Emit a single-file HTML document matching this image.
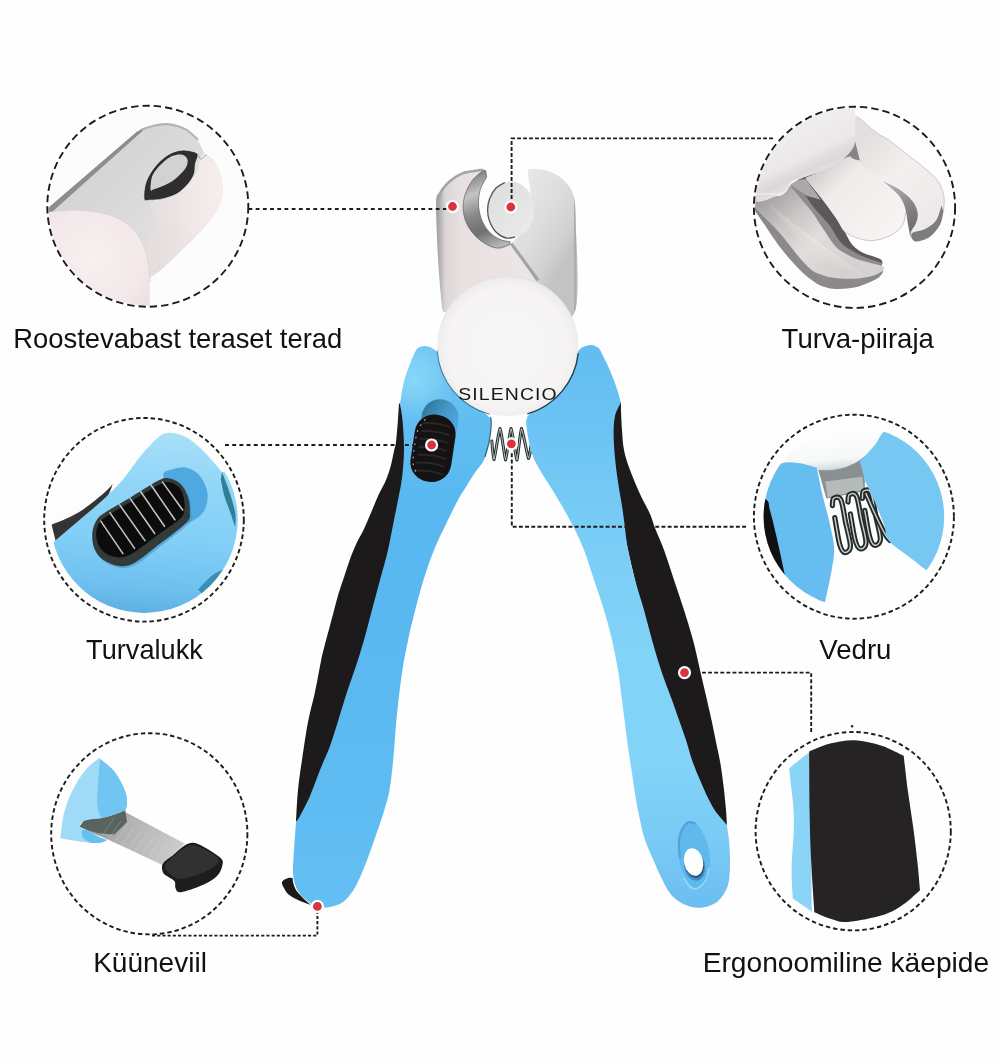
<!DOCTYPE html>
<html lang="et">
<head>
<meta charset="utf-8">
<title>Küünekäärid</title>
<style>
html,body{margin:0;padding:0;background:#fefefe;}
body{width:1000px;height:1060px;overflow:hidden;position:relative;font-family:"Liberation Sans",sans-serif;}
svg{display:block;position:absolute;left:0;top:0;will-change:transform;}
text{will-change:transform;}
.lbl{font-family:"Liberation Sans",sans-serif;font-size:27.2px;fill:#111;}
.dash{fill:none;stroke:#1c1c1c;stroke-width:1.9;stroke-dasharray:4.2 3;}
.ring{fill:none;stroke:#1c1c1c;stroke-width:1.9;stroke-dasharray:7 4;}
.dot{fill:#d8343f;stroke:#fff;stroke-width:2.2;}
</style>
</head>
<body>
<svg width="1000" height="1060" viewBox="0 0 1000 1060">
<rect x="0" y="0" width="1000" height="1060" fill="#fefefe"/>
<defs>
<linearGradient id="gBlueL" gradientUnits="userSpaceOnUse" x1="0" y1="340" x2="0" y2="910">
<stop offset="0" stop-color="#70c6f3"/><stop offset="0.14" stop-color="#62bef1"/><stop offset="0.28" stop-color="#58b8ef"/><stop offset="0.5" stop-color="#59b8ef"/><stop offset="0.75" stop-color="#5dbbf2"/><stop offset="1" stop-color="#64bff3"/>
</linearGradient>
<radialGradient id="gShoulder" gradientUnits="userSpaceOnUse" cx="414" cy="380" r="42">
<stop offset="0" stop-color="#9fe3fb" stop-opacity="0.6"/><stop offset="0.45" stop-color="#98e1fb" stop-opacity="0.4"/><stop offset="1" stop-color="#8cd9f9" stop-opacity="0"/>
</radialGradient>
<linearGradient id="gBlueR" gradientUnits="userSpaceOnUse" x1="0" y1="340" x2="0" y2="910">
<stop offset="0" stop-color="#62bcf1"/><stop offset="0.175" stop-color="#6dc4f4"/><stop offset="0.35" stop-color="#7acdf6"/><stop offset="0.55" stop-color="#82d3f8"/><stop offset="0.75" stop-color="#82d3f8"/><stop offset="0.88" stop-color="#79caf5"/><stop offset="1" stop-color="#6bbdf2"/>
</linearGradient>
<clipPath id="cpLblue"><path d="M440 356C439.5 355.3 438.5 353.4 437 352C435.5 350.6 433 348.5 431 347.5C429 346.5 426.8 346.1 425 346C423.2 345.9 421.5 346.2 420 347C418.5 347.8 417.7 347.7 416 350.5C414.3 353.3 412 358.8 410 364C408 369.2 405.7 375.3 404 382C402.3 388.7 400.7 400.3 400 404L400 404C400.4 406.7 401.8 412.3 402.5 420C403.2 427.7 404.1 440.3 404 450C403.9 459.7 403 469.7 402 478C401 486.3 399.3 493 398 500C396.7 507 395.7 511.7 394 520C392.3 528.3 390.3 540 388 550C385.7 560 382.7 570 380 580C377.3 590 374.7 600 372 610C369.3 620 366.7 630.7 364 640C361.3 649.3 358.8 657.3 356 666C353.2 674.7 349.8 683.3 347 692C344.2 700.7 341.8 709 339 718C336.2 727 333.2 737.3 330 746C326.8 754.7 323.3 761.7 320 770C316.7 778.3 313.3 788.3 310 796C306.7 803.7 302.3 811.7 300 816C297.7 820.3 296.7 821 296 822L296 822C295.7 826.7 294.5 841.7 294 850C293.5 858.3 292.8 866.3 293 872C293.2 877.7 293.8 880.3 295 884C296.2 887.7 297.5 890.8 300 894C302.5 897.2 306.7 900.8 310 903C313.3 905.2 316.7 906.3 320 907C323.3 907.7 326.2 907.8 330 907C333.8 906.2 338.9 905 342.8 902.3C346.7 899.6 350.2 895.1 353.2 890.6C356.2 886.1 358.4 880.9 361 875C363.6 869.1 366 863.1 368.8 855.5C371.6 847.9 375.3 837.1 377.9 829.5C380.5 821.9 382.5 816.6 384.4 810C386.3 803.4 388 798.3 389.5 790C391 781.7 392.1 770.8 393.2 760C394.3 749.2 395.1 735.3 396 725C396.9 714.7 397.7 707.3 398.8 698C399.9 688.7 401 679 402.6 669C404.2 659 406.4 648 408.5 638C410.6 628 413 618.7 415.5 609C418 599.3 420.4 589.8 423.5 580C426.6 570.2 430.2 559.3 434 550C437.8 540.7 442 532.3 446 524C450 515.7 455 505.7 458 500C461 494.3 461.3 494.3 464 490C466.7 485.7 470.7 479 474 474C477.3 469 481.5 465.3 484 460C486.5 454.7 487.8 448.3 489 442C490.2 435.7 491.2 426.3 491 422C490.8 417.7 491.5 419.7 488 416C484.5 412.3 473 402.7 470 400Z"/></clipPath>
<linearGradient id="gBladeR" gradientUnits="userSpaceOnUse" x1="520" y1="190" x2="585" y2="230">
<stop offset="0" stop-color="#e8e7e7"/><stop offset="0.45" stop-color="#dedddd"/><stop offset="0.8" stop-color="#d2d1d1"/><stop offset="1" stop-color="#c4c3c3"/>
</linearGradient>
<linearGradient id="gBladeL" gradientUnits="userSpaceOnUse" x1="436" y1="0" x2="520" y2="0">
<stop offset="0" stop-color="#9d9d9d"/><stop offset="0.05" stop-color="#b4b3b3"/><stop offset="0.11" stop-color="#dcd6d6"/><stop offset="0.3" stop-color="#e9e1e1"/><stop offset="1" stop-color="#ece5e5"/>
</linearGradient>
<linearGradient id="gBevel" gradientUnits="userSpaceOnUse" x1="470" y1="175" x2="500" y2="245">
<stop offset="0" stop-color="#7f7f7f"/><stop offset="0.25" stop-color="#c4c4c4"/><stop offset="0.5" stop-color="#8a8a8a"/><stop offset="0.75" stop-color="#6f6f6f"/><stop offset="1" stop-color="#b5b5b5"/>
</linearGradient>
<radialGradient id="gDisc" gradientUnits="userSpaceOnUse" cx="507.8" cy="348" r="72">
<stop offset="0" stop-color="#f8f7f7"/><stop offset="0.85" stop-color="#f5f3f3"/><stop offset="0.97" stop-color="#efecec"/><stop offset="1" stop-color="#e4e0e0"/>
</radialGradient>
<linearGradient id="gLim" gradientUnits="userSpaceOnUse" x1="490" y1="190" x2="535" y2="230">
<stop offset="0" stop-color="#dedede"/><stop offset="1" stop-color="#ebebeb"/>
</linearGradient>
<linearGradient id="gRecess" gradientUnits="userSpaceOnUse" x1="420" y1="400" x2="458" y2="420">
<stop offset="0" stop-color="#2f7492"/><stop offset="0.5" stop-color="#4598c8"/><stop offset="1" stop-color="#4fabe3"/>
</linearGradient>
<clipPath id="cpLB"><path d="M443.4 312C443.1 310.5 442.5 312 441.6 303C440.7 294 438.9 274.5 438 258C437.1 241.5 435.9 215.1 436.2 204C436.5 192.9 437.7 195.3 439.8 191.4C441.9 187.5 445.2 183.8 448.8 180.6C452.4 177.4 457.2 174.3 461.4 172.5C465.6 170.7 470.4 170.4 474 169.8C477.6 169.2 481.1 168.3 483 168.9C484.9 169.5 485.2 172.7 485.7 173.4L482 171.6C480.4 173.1 475 176.7 472.2 180.6C469.4 184.5 466.5 190.2 465 195C463.5 199.8 462.9 204.6 463.2 209.4C463.5 214.2 464.7 219.3 466.8 223.8C468.9 228.3 472.2 232.8 475.8 236.4C479.4 240 484.5 243.5 488.4 245.4C492.3 247.3 495.6 248.2 499.2 248.1C502.8 247.9 508.2 245.1 510 244.5L510 244.5C514.2 250.3 529.4 270.4 535.2 279.6C541 288.9 543.4 294.6 545 300C546.6 305.4 545 310 545 312Z"/></clipPath>
<clipPath id="cpRB"><path d="M527.6 169.5C529.2 169.4 533.3 168.6 537 168.9C540.7 169.2 545.4 169.9 549.6 171.6C553.8 173.2 558.6 175.8 562.2 178.8C565.8 181.8 569.1 185.7 571.2 189.6C573.3 193.5 574 197.1 574.8 202.2C575.5 207.3 575.6 217 575.7 220L575.7 220C575.6 235.3 580.8 296.7 574.8 312C568.8 327.3 549.1 320.3 540 312C530.9 303.7 525 273.2 520 262C515 250.8 511.7 247.4 510 244.5L510 244.5C513 241.2 524.5 232.4 528 225C531.5 217.6 530.8 207.2 531 200C531.2 192.8 529.6 187.1 529 182C528.4 176.9 527.8 171.6 527.6 169.5Z"/></clipPath>
</defs>
<g id="clipper">
<path d="M527.6 169.5C529.2 169.4 533.3 168.6 537 168.9C540.7 169.2 545.4 169.9 549.6 171.6C553.8 173.2 558.6 175.8 562.2 178.8C565.8 181.8 569.1 185.7 571.2 189.6C573.3 193.5 574 197.1 574.8 202.2C575.5 207.3 575.6 217 575.7 220L575.7 220C575.6 235.3 580.8 296.7 574.8 312C568.8 327.3 549.1 320.3 540 312C530.9 303.7 525 273.2 520 262C515 250.8 511.7 247.4 510 244.5L510 244.5C513 241.2 524.5 232.4 528 225C531.5 217.6 530.8 207.2 531 200C531.2 192.8 529.6 187.1 529 182C528.4 176.9 527.8 171.6 527.6 169.5Z" fill="url(#gBladeR)"/>
<g clip-path="url(#cpRB)">
<path d="M510 244.5L537 281" stroke="#a3a2a2" stroke-width="6" fill="none"/>
<path d="M575.2 190V312" stroke="#aeadad" stroke-width="2.4" fill="none"/>
</g>
<path d="M443.4 312C443.1 310.5 442.5 312 441.6 303C440.7 294 438.9 274.5 438 258C437.1 241.5 435.9 215.1 436.2 204C436.5 192.9 437.7 195.3 439.8 191.4C441.9 187.5 445.2 183.8 448.8 180.6C452.4 177.4 457.2 174.3 461.4 172.5C465.6 170.7 470.4 170.4 474 169.8C477.6 169.2 481.1 168.3 483 168.9C484.9 169.5 485.2 172.7 485.7 173.4L482 171.6C480.4 173.1 475 176.7 472.2 180.6C469.4 184.5 466.5 190.2 465 195C463.5 199.8 462.9 204.6 463.2 209.4C463.5 214.2 464.7 219.3 466.8 223.8C468.9 228.3 472.2 232.8 475.8 236.4C479.4 240 484.5 243.5 488.4 245.4C492.3 247.3 495.6 248.2 499.2 248.1C502.8 247.9 508.2 245.1 510 244.5L510 244.5C514.2 250.3 529.4 270.4 535.2 279.6C541 288.9 543.4 294.6 545 300C546.6 305.4 545 310 545 312Z" fill="url(#gBladeL)"/>
<g clip-path="url(#cpLB)">
<path d="M436.2 215C436.2 213.2 435.9 207.9 436.5 204C437.1 200.1 437.8 195.3 439.8 191.4C441.9 187.5 445.2 183.8 448.8 180.6C452.4 177.4 457.2 174.3 461.4 172.5C465.6 170.7 470.2 170.5 474 169.8C477.8 169.2 482.3 168.8 484 168.6" fill="none" stroke="#a7a6a6" stroke-width="5"/>
</g>
<path d="M485.7 170.5C485.1 170.7 484.2 169.9 482 171.6C479.8 173.3 475 176.7 472.2 180.6C469.4 184.5 466.5 190.2 465 195C463.5 199.8 462.9 204.6 463.2 209.4C463.5 214.2 464.7 219.3 466.8 223.8C468.9 228.3 472.2 232.8 475.8 236.4C479.4 240 484.5 243.5 488.4 245.4C492.3 247.3 495.6 248.2 499.2 248.1C502.8 247.9 508.2 245.1 510 244.5L510 241.8C508.2 241.4 502.8 240.9 499.2 239.1C495.6 237.3 491.4 234.4 488.4 231C485.4 227.6 482.8 222.9 481.2 218.4C479.6 213.9 478.6 208.8 478.5 204C478.4 199.2 478.9 194.1 480.3 189.6C481.7 185.1 485.6 179.1 486.6 177Z" fill="url(#gBevel)" stroke="#5e5e5e" stroke-width="0.7"/>
<ellipse cx="510.9" cy="209.8" rx="23.4" ry="28.3" fill="url(#gLim)"/>
<path d="M505 182.5C503.5 183.4 498.6 185.2 496 188C493.4 190.8 490.9 195.3 489.5 199C488.1 202.7 487.6 206.3 487.6 210C487.6 213.7 488.1 217.3 489.5 221C490.9 224.7 493.2 229.2 496 232C498.8 234.8 502.8 237.2 506 238C509.2 238.8 513.5 237.2 515 237" fill="none" stroke="#555" stroke-width="1.3"/>
<g fill="none" stroke-linecap="round" stroke-linejoin="round">
<path d="M491.8 441C492.5 450 493 456 494 459.5C496 452 498 434 500 428.5C502 434 504 454 505.5 460C507.5 452 509.5 434 511 428.5C513 434 515 454 517 460C518.5 452 520 434 521.5 428.5C524 436 526.5 452 528.5 458.5C529.8 455 530.6 450 531 446" stroke="#1f2a2a" stroke-width="3"/>
<path d="M491.8 441C492.5 450 493 456 494 459.5C496 452 498 434 500 428.5C502 434 504 454 505.5 460C507.5 452 509.5 434 511 428.5C513 434 515 454 517 460C518.5 452 520 434 521.5 428.5C524 436 526.5 452 528.5 458.5C529.8 455 530.6 450 531 446" stroke="#c9cfcf" stroke-width="0.9"/>
</g>
<path d="M399 403.6C398.8 406.7 398.3 415.6 397.8 422C397.3 428.4 396.6 437.2 396 442C395.4 446.8 394.8 447.2 394 451C393.2 454.8 392.3 460.2 391 465C389.7 469.8 388.1 475 386 480C383.9 485 381.1 489.3 378.5 495C375.9 500.7 373 508.2 370.5 514C368 519.8 365.6 525.5 363.5 530C361.4 534.5 359.8 536.3 357.6 541C355.4 545.7 352.6 552.2 350.4 558C348.2 563.8 346.4 570 344.4 576C342.4 582 340.2 588 338.4 594C336.6 600 335.2 606 333.6 612C332 618 330.4 624 328.8 630C327.2 636 325.3 642.8 324 648C322.7 653.2 322.5 653.7 321 661C319.5 668.3 317.2 681.8 315 692C312.8 702.2 310.2 710.7 308 722C305.8 733.3 303.7 748.7 302 760C300.3 771.3 299 779.7 298 790C297 800.3 296.3 816.7 296 822L330 790C338.3 758.3 366.7 656.7 380 600C393.3 543.3 406 482.7 410 450C414 417.3 405 411.7 404 404Z" fill="#1c1a1b"/>
<path d="M440 356C439.5 355.3 438.5 353.4 437 352C435.5 350.6 433 348.5 431 347.5C429 346.5 426.8 346.1 425 346C423.2 345.9 421.5 346.2 420 347C418.5 347.8 417.7 347.7 416 350.5C414.3 353.3 412 358.8 410 364C408 369.2 405.7 375.3 404 382C402.3 388.7 400.7 400.3 400 404L400 404C400.4 406.7 401.8 412.3 402.5 420C403.2 427.7 404.1 440.3 404 450C403.9 459.7 403 469.7 402 478C401 486.3 399.3 493 398 500C396.7 507 395.7 511.7 394 520C392.3 528.3 390.3 540 388 550C385.7 560 382.7 570 380 580C377.3 590 374.7 600 372 610C369.3 620 366.7 630.7 364 640C361.3 649.3 358.8 657.3 356 666C353.2 674.7 349.8 683.3 347 692C344.2 700.7 341.8 709 339 718C336.2 727 333.2 737.3 330 746C326.8 754.7 323.3 761.7 320 770C316.7 778.3 313.3 788.3 310 796C306.7 803.7 302.3 811.7 300 816C297.7 820.3 296.7 821 296 822L296 822C295.7 826.7 294.5 841.7 294 850C293.5 858.3 292.8 866.3 293 872C293.2 877.7 293.8 880.3 295 884C296.2 887.7 297.5 890.8 300 894C302.5 897.2 306.7 900.8 310 903C313.3 905.2 316.7 906.3 320 907C323.3 907.7 326.2 907.8 330 907C333.8 906.2 338.9 905 342.8 902.3C346.7 899.6 350.2 895.1 353.2 890.6C356.2 886.1 358.4 880.9 361 875C363.6 869.1 366 863.1 368.8 855.5C371.6 847.9 375.3 837.1 377.9 829.5C380.5 821.9 382.5 816.6 384.4 810C386.3 803.4 388 798.3 389.5 790C391 781.7 392.1 770.8 393.2 760C394.3 749.2 395.1 735.3 396 725C396.9 714.7 397.7 707.3 398.8 698C399.9 688.7 401 679 402.6 669C404.2 659 406.4 648 408.5 638C410.6 628 413 618.7 415.5 609C418 599.3 420.4 589.8 423.5 580C426.6 570.2 430.2 559.3 434 550C437.8 540.7 442 532.3 446 524C450 515.7 455 505.7 458 500C461 494.3 461.3 494.3 464 490C466.7 485.7 470.7 479 474 474C477.3 469 481.5 465.3 484 460C486.5 454.7 487.8 448.3 489 442C490.2 435.7 491.2 426.3 491 422C490.8 417.7 491.5 419.7 488 416C484.5 412.3 473 402.7 470 400Z" fill="url(#gBlueL)"/>
<g clip-path="url(#cpLblue)"><circle cx="414" cy="380" r="42" fill="url(#gShoulder)"/></g>
<path d="M621 402C621 403.3 620.8 405.3 621 410C621.2 414.7 621.5 423.3 622 430C622.5 436.7 622.7 443.3 624 450C625.3 456.7 627.3 462.7 630 470C632.7 477.3 636.7 486.7 640 494C643.3 501.3 647.5 508.3 650 514C652.5 519.7 652.7 522 655 528C657.3 534 660.8 541.3 664 550C667.2 558.7 670.7 570 674 580C677.3 590 680.8 600 684 610C687.2 620 690.3 630 693 640C695.7 650 697.7 660 700 670C702.3 680 705.1 691.7 707 700C708.9 708.3 710 713 711.5 720C713 727 714.5 734.7 716 742C717.5 749.3 719.2 756 720.5 764C721.8 772 723.1 782.3 724 790C724.9 797.7 725.5 804 726 810C726.5 816 726.8 823.3 727 826L700 800C690 766.7 655 658.3 640 600C625 541.7 614 482.7 610 450C606 417.3 615 411.7 616 404Z" fill="#1c1a1b"/>
<path d="M575 356C575.8 354.8 578.2 350.7 580 349C581.8 347.3 584 346.7 586 346C588 345.3 590.2 344.8 592 345C593.8 345.2 595.7 346.2 597 347C598.3 347.8 598.2 346.8 600 350C601.8 353.2 605.3 360 608 366C610.7 372 613.8 379.8 616 386C618.2 392.2 620.2 400.2 621 403L620 404C619.2 406 616.1 411 615 416C613.9 421 613.6 427 613.6 434C613.6 441 614.3 450 615 458C615.7 466 616.8 474 618 482C619.2 490 620.9 499 622 506C623.1 513 623.5 516.7 624.5 524C625.5 531.3 626.2 540.7 628 550C629.8 559.3 632.3 570 635 580C637.7 590 641.2 600 644 610C646.8 620 649.2 630 652 640C654.8 650 657.7 660 661 670C664.3 680 669 691.7 672 700C675 708.3 676.7 713.3 679 720C681.3 726.7 683.8 733.3 686 740C688.2 746.7 689.7 753.3 692 760C694.3 766.7 697.3 773.7 700 780C702.7 786.3 705.3 792.7 708 798C710.7 803.3 712.8 807.5 716 812C719.2 816.5 725.2 822.8 727 825L727 826C727.3 828.3 728.5 834.3 729 840C729.5 845.7 730 853.3 730 860C730 866.7 729.8 874.8 729 880C728.2 885.2 727.5 887.3 725.5 891C723.5 894.7 720.8 899.2 717 902C713.2 904.8 707.5 906.8 703 907.5C698.5 908.2 694 907.5 690 906.5C686 905.5 682.4 903.8 679 901.5C675.6 899.2 672.6 896.8 669.5 892.5C666.4 888.2 663.2 881.6 660.5 876C657.8 870.4 655.6 865 653 859C650.4 853 647.2 846.5 645 840C642.8 833.5 641.5 826.7 640 820C638.5 813.3 637.2 806.7 636 800C634.8 793.3 634 786.7 633 780C632 773.3 631 766.7 630 760C629 753.3 627.9 746.7 627 740C626.1 733.3 625.3 726.7 624.5 720C623.7 713.3 623.1 708.3 622 700C620.9 691.7 619.7 680 618 670C616.3 660 614.3 650 612 640C609.7 630 607 620 604 610C601 600 597.3 590 594 580C590.7 570 587.5 559 584 550C580.5 541 576.7 533.3 573 526C569.3 518.7 565.8 512.7 562 506C558.2 499.3 553.7 492 550 486C546.3 480 543 475.3 540 470C537 464.7 534.2 460.7 532 454C529.8 447.3 527.7 436.3 527 430C526.3 423.7 525 421 528 416C531 411 542.2 402.7 545 400Z" fill="url(#gBlueR)"/>
<path d="M490.5 417C490.6 418.2 491.5 420 491.3 424C491.1 428 490.4 435.5 489.3 441C488.2 446.5 485.6 454.3 484.8 457" fill="none" stroke="#1d4f63" stroke-width="1.3" stroke-opacity="0.8"/>
<ellipse cx="694" cy="855" rx="15.5" ry="34" fill="#60b9ec" transform="rotate(-9 694 855)"/>
<path d="M680 858C679.8 855 678.5 845 679 840C679.5 835 681.3 831 683 828C684.7 825 686.8 822.7 689 822C691.2 821.3 694.8 823.7 696 824" fill="none" stroke="#4a9fd3" stroke-width="2.2" stroke-opacity="0.8"/>
<path d="M684 878C685 879.5 687.7 885.3 690 887C692.3 888.7 695.3 889.2 698 888C700.7 886.8 704.2 883.3 706 880C707.8 876.7 708.5 870 709 868" fill="none" stroke="#9adcfa" stroke-width="1.6" stroke-opacity="0.9"/>
<ellipse cx="694.6" cy="866" rx="10.5" ry="15" fill="#3d8fd0" transform="rotate(-12 694.6 866)"/>
<ellipse cx="694.3" cy="864.2" rx="9.6" ry="14" fill="#2c5878" transform="rotate(-12 694.3 864.2)"/>
<ellipse cx="693.6" cy="862" rx="9.5" ry="14" fill="#fefefe" transform="rotate(-12 693.6 862)"/>
<path d="M292.6 878C291.8 878 289.8 877.3 288 878C286.2 878.7 282.7 880.3 282 882C281.3 883.7 283 886 284 888C285 890 286 892.2 288 894C290 895.8 293.3 897.6 296 899C298.7 900.4 301.5 901.5 304 902.5C306.5 903.5 309.8 904.6 311 905L311 905C309.7 903.8 305.5 900.5 303 898C300.5 895.5 297.7 892.7 296 890C294.3 887.3 293.5 883.3 293 882Z" fill="#1c1a1b"/>
<g transform="rotate(8.5 433 448)">
<rect x="417" y="398.5" width="37" height="80" rx="18.5" ry="18.5" fill="url(#gRecess)"/>
<rect x="412.5" y="414.5" width="41" height="67.5" rx="20" ry="19" fill="#141212"/>
<path d="M419 425 Q433 422 447 425" stroke="#2b2727" stroke-width="2" fill="none"/>
<path d="M419 433 Q433 430 447 433" stroke="#2b2727" stroke-width="2" fill="none"/>
<path d="M419 441 Q433 438 447 441" stroke="#2b2727" stroke-width="2" fill="none"/>
<path d="M419 449 Q433 446 447 449" stroke="#2b2727" stroke-width="2" fill="none"/>
<path d="M419 457 Q433 454 447 457" stroke="#2b2727" stroke-width="2" fill="none"/>
<path d="M419 465 Q433 462 447 465" stroke="#2b2727" stroke-width="2" fill="none"/>
<path d="M419 473 Q433 470 447 473" stroke="#2b2727" stroke-width="2" fill="none"/>
<path d="M421 421C420.1 422.8 416.6 427.5 415.5 432C414.4 436.5 414.5 442.3 414.5 448C414.5 453.7 414.4 461.3 415.5 466C416.6 470.7 420.1 474.3 421 476" fill="none" stroke="#b8b8b8" stroke-width="1.1" stroke-dasharray="1 5.7" stroke-linecap="round"/>
</g>
<circle cx="507.8" cy="345.8" r="70.4" fill="url(#gDisc)"/>
<path d="M578.2 353.2A70.8 70.8 0 0 1 527.3 413.9" fill="none" stroke="#14262e" stroke-width="1.4" stroke-opacity="0.85"/>
<path d="M437.2 350.7A70.8 70.8 0 0 0 489.5 414.2" fill="none" stroke="#2c5a70" stroke-width="1.1" stroke-opacity="0.7"/>
<g transform="translate(458.2 400.2) scale(1.17 1)"><text x="0" y="0" font-family="'Liberation Sans',sans-serif" font-size="16.6" fill="#161616" textLength="84.2" lengthAdjust="spacing">SILENCIO</text></g>
</g>
<defs>
<linearGradient id="tlFace" gradientUnits="userSpaceOnUse" x1="200" y1="300" x2="600" y2="700"><stop offset="0" stop-color="#d3d3d3"/><stop offset="0.5" stop-color="#dbdada"/><stop offset="1" stop-color="#e4e0e0"/></linearGradient>
<linearGradient id="tlBrush" gradientUnits="userSpaceOnUse" x1="500" y1="500" x2="800" y2="450"><stop offset="0" stop-color="#e4dede"/><stop offset="0.5" stop-color="#efe6e6"/><stop offset="1" stop-color="#f6eded"/></linearGradient>
<radialGradient id="tlCap" gradientUnits="userSpaceOnUse" cx="260" cy="700" r="300"><stop offset="0" stop-color="#f7eff0"/><stop offset="0.7" stop-color="#f3e8ea"/><stop offset="1" stop-color="#eddfe1"/></radialGradient>
<linearGradient id="trLow" gradientUnits="userSpaceOnUse" x1="-60" y1="330" x2="330" y2="800"><stop offset="0" stop-color="#a5a2a2"/><stop offset="0.3" stop-color="#cbc6c6"/><stop offset="0.6" stop-color="#e2dcdc"/><stop offset="1" stop-color="#d6d1d1"/></linearGradient>
<linearGradient id="trRB" gradientUnits="userSpaceOnUse" x1="450" y1="50" x2="900" y2="500"><stop offset="0" stop-color="#e3dfde"/><stop offset="0.4" stop-color="#f3efee"/><stop offset="1" stop-color="#ede9e8"/></linearGradient>
<linearGradient id="trWall" gradientUnits="userSpaceOnUse" x1="620" y1="260" x2="790" y2="540"><stop offset="0" stop-color="#b5b2b2"/><stop offset="0.5" stop-color="#8a8888"/><stop offset="1" stop-color="#6a6868"/></linearGradient>
<linearGradient id="trShadow" gradientUnits="userSpaceOnUse" x1="120" y1="280" x2="560" y2="720"><stop offset="0" stop-color="#7a7878"/><stop offset="0.5" stop-color="#6a6868"/><stop offset="1" stop-color="#9a9898"/></linearGradient>
<linearGradient id="trTg" gradientUnits="userSpaceOnUse" x1="230" y1="170" x2="600" y2="540"><stop offset="0" stop-color="#d3cfcf"/><stop offset="0.3" stop-color="#efebea"/><stop offset="1" stop-color="#f7f3f2"/></linearGradient>
<linearGradient id="trCap" gradientUnits="userSpaceOnUse" x1="60" y1="-120" x2="240" y2="260"><stop offset="0" stop-color="#f2eff0"/><stop offset="0.55" stop-color="#ebe8e9"/><stop offset="0.75" stop-color="#dcd7d9"/><stop offset="0.9" stop-color="#e6e2e4"/><stop offset="1" stop-color="#d9d4d6"/></linearGradient>
<linearGradient id="mlBlue" gradientUnits="userSpaceOnUse" x1="500" y1="150" x2="450" y2="900"><stop offset="0" stop-color="#a6def8"/><stop offset="0.25" stop-color="#92d6f8"/><stop offset="0.6" stop-color="#80cef7"/><stop offset="0.85" stop-color="#6dbfee"/><stop offset="1" stop-color="#5aaee0"/></linearGradient>
<linearGradient id="mrCap" gradientUnits="userSpaceOnUse" x1="400" y1="100" x2="420" y2="300"><stop offset="0" stop-color="#ffffff"/><stop offset="0.72" stop-color="#f6f8f8"/><stop offset="0.9" stop-color="#d9e0e2"/><stop offset="1" stop-color="#b4bfc3"/></linearGradient>
<linearGradient id="blFile" gradientUnits="userSpaceOnUse" x1="250" y1="440" x2="620" y2="600"><stop offset="0" stop-color="#8d8f8e"/><stop offset="0.4" stop-color="#b3b3b3"/><stop offset="1" stop-color="#cdcdcd"/></linearGradient>
</defs>
<clipPath id="cp_cTL"><circle cx="147.8" cy="206.2" r="99.3"/></clipPath>
<g id="cTL" clip-path="url(#cp_cTL)"><g transform="translate(30 90) scale(0.24)">
<rect x="0" y="0" width="1000" height="1000" fill="#fdfcfc"/>
<path d="M70 505C100 478.3 188.3 399.2 250 345C311.7 290.8 398.3 212.2 440 180C481.7 147.8 480 158.2 500 152C520 145.8 536.7 140.8 560 143C583.3 145.2 616.7 153 640 165C663.3 177 685.8 198.8 700 215C714.2 231.2 720.8 254.2 725 262L725 262C732.5 268.3 757.5 280.3 770 300C782.5 319.7 796.7 350 800 380C803.3 410 806.7 443.3 790 480C773.3 516.7 746.7 550.8 700 600C653.3 649.2 541.7 745.8 510 775L510 775C491.7 779.2 451.7 812.5 400 800C348.3 787.5 255 749.2 200 700C145 650.8 91.7 537.5 70 505Z" fill="url(#tlFace)"/>
<path d="M725 265C733.3 272.5 762.5 289.2 775 310C787.5 330.8 797.5 361.7 800 390C802.5 418.3 806.7 445 790 480C773.3 515 746.7 550.8 700 600C653.3 649.2 545 758.3 510 775C475 791.7 495 722.5 490 700C485 677.5 481.7 650 480 640L480 640C487.5 624.2 521.7 573.3 525 545C528.3 516.7 487.5 487.5 500 470C512.5 452.5 568.3 460 600 440C631.7 420 672.5 375 690 350C707.5 325 702.5 300 705 290Z" fill="url(#tlBrush)"/>
<path d="M72 494L445 174L468 161L472 168L94 506L78 508Z" fill="#8d8d8d"/>
<path d="M465 165C474.2 162.2 500.8 151.7 520 148C539.2 144.3 558.3 140.2 580 143C601.7 145.8 630 154.2 650 165C670 175.8 691.7 200.8 700 208" fill="none" stroke="#b3b3b3" stroke-width="9"/>
<path d="M475.2 453.8C472.5 441.2 475.6 406 483.3 383.4C491 360.8 505.9 337.4 521.3 318.4C536.6 299.4 557.3 280.9 575.4 269.6C593.5 258.3 612.4 252.9 629.6 250.7C646.8 248.4 666.7 253 678.4 256.1C690.1 259.2 698.2 261 700 269.6C701.8 278.2 691.9 293.9 689.2 307.5C686.5 321.1 689.2 336.4 683.8 350.9C678.4 365.3 668.4 380.7 656.7 394.2C645 407.7 630.5 422.2 613.4 432.1C596.2 442 572.8 449.3 553.8 453.8C534.8 458.3 512.7 459.2 499.6 459.2C486.5 459.2 477.9 466.4 475.2 453.8Z" fill="#2e2e2e" stroke="#f4f4f4" stroke-width="3"/>
<path d="M502.3 415.9C501.4 406.4 502.7 374.4 510.4 356.3C518.1 338.2 534.8 321.1 548.3 307.5C561.8 293.9 577.2 281.3 591.7 275C606.2 268.7 624.2 266.9 635 269.6C645.8 272.3 654.9 281.4 656.7 291.3C658.5 301.2 654.9 315.7 645.9 329.2C636.9 342.7 617.9 360.8 602.5 372.5C587.1 384.2 568.2 392.8 553.8 399.6C539.3 406.4 524.4 410.5 515.8 413.2C507.2 415.9 503.2 425.4 502.3 415.9Z" fill="#d2d2d2"/>
<path d="M700 268C702 271.3 706.2 287.7 712 288C717.8 288.3 731.2 273 735 270" fill="none" stroke="#8a8a8a" stroke-width="3"/>
<path d="M70 510C91.7 508.3 156.7 498.3 200 500C243.3 501.7 293.3 508.3 330 520C366.7 531.7 396.7 550 420 570C443.3 590 457.5 613.3 470 640C482.5 666.7 490 686.7 495 730C500 773.3 499.2 871.7 500 900L500 900C426.7 900 133.3 900 60 900Z" fill="url(#tlCap)"/>
<path d="M120 505C133.3 504.2 165 497.5 200 500C235 502.5 293.3 508.3 330 520C366.7 531.7 396.7 550 420 570C443.3 590 457.5 613.3 470 640C482.5 666.7 490 703.3 495 730C500 756.7 499.2 788.3 500 800" fill="none" stroke="#dcd2d2" stroke-width="4"/>
</g></g>
<clipPath id="cp_cTR"><circle cx="854.5" cy="207.3" r="99.4"/></clipPath>
<g id="cTR" clip-path="url(#cp_cTR)"><g transform="translate(780 140) scale(0.17)">
<rect x="-300" y="-300" width="1600" height="1400" fill="#fdfdfd"/>
<path d="M454 -140C473.3 -123.5 539 -64.3 570 -41C601 -17.7 608.3 -22.7 640 0C671.7 22.7 720 63.3 760 95C800 126.7 850 162.5 880 190C910 217.5 925.8 235 940 260C954.2 285 961.3 313.3 965 340C968.7 366.7 962.5 406.7 962 420L962 420C958.3 433.3 953.7 475 940 500C926.3 525 903.3 553.8 880 570C856.7 586.2 818 596.7 800 597C782 597.3 776.7 576.2 772 572L772 572C771.7 566.7 765.3 553.7 770 540C774.7 526.3 793.3 508.3 800 490C806.7 471.7 813.3 451.7 810 430C806.7 408.3 798.3 383.3 780 360C761.7 336.7 730 310 700 290C670 270 616.7 248.3 600 240L600 240C571.7 218.3 456.7 150 430 110C403.3 70 438.3 41.7 440 0C441.7 -41.7 440 -116.7 440 -140Z" fill="url(#trRB)"/>
<path d="M962 420C958.3 433.3 953.7 475 940 500C926.3 525 903.3 553.8 880 570C856.7 586.2 818 596.7 800 597C782 597.3 776.7 576.2 772 572L772 572C772.3 568 773.7 552 774 548L774 548C777.5 546.7 780.7 544.7 795 540C809.3 535.3 839.2 531.7 860 520C880.8 508.3 905 492.5 920 470C935 447.5 945 399.2 950 385Z" fill="#7e7d7d"/>
<path d="M454 -140C473.3 -123.5 539 -64.3 570 -41C601 -17.7 608.3 -22.7 640 0C671.7 22.7 720 63.3 760 95C800 126.7 850 162.5 880 190C910 217.5 925.8 235 940 260C954.2 285 961.3 313.3 965 340C968.7 366.7 962.5 406.7 962 420" fill="none" stroke="#b5b2b2" stroke-width="4"/>
<path d="M600 240C616.7 248.3 670 270 700 290C730 310 761.7 336.7 780 360C798.3 383.3 806.7 408.3 810 430C813.3 451.7 806.7 471.7 800 490C793.3 508.3 774.7 526.3 770 540C765.3 553.7 771.7 566.7 772 572L765 560C762.5 546.7 754.2 503.3 750 480C745.8 456.7 748.3 445 740 420C731.7 395 723.3 360 700 330C676.7 300 616.7 255 600 240Z" fill="url(#trWall)"/>
<path d="M-170 318C-141.7 319.7 -38.3 336 0 328C38.3 320 33.3 269.7 60 270C86.7 270.3 126.7 301.7 160 330C193.3 358.3 231.7 401.7 260 440C288.3 478.3 306.7 525 330 560C353.3 595 375 626.7 400 650C425 673.3 446.7 685 480 700C513.3 715 579 727.3 600 740C621 752.7 605 770 606 776L606 776C600.1 782.6 593.1 801.6 570.5 815.4C547.9 829.2 499 849.4 470.6 858.8C442.2 868.2 423.5 869.1 400 872C376.5 874.9 351.1 877.4 329.4 876.4C307.7 875.4 289.6 871.9 270 866C250.4 860.1 237.2 858 211.8 841.1C186.4 824.2 152.9 799.9 117.6 764.6C82.3 729.3 39.2 680.4 0 629.4C-39.2 578.4 -89.8 497.9 -117.6 458.8C-145.4 419.7 -158.8 405.6 -167 395Z" fill="url(#trLow)"/>
<path d="M606 776C600.1 782.6 593.1 801.6 570.5 815.4C547.9 829.2 499 849.4 470.6 858.8C442.2 868.2 423.5 869.1 400 872C376.5 874.9 351.1 877.4 329.4 876.4C307.7 875.4 289.6 871.9 270 866C250.4 860.1 237.2 858 211.8 841.1C186.4 824.2 152.9 799.9 117.6 764.6C82.3 729.3 39.2 680.4 0 629.4C-39.2 578.4 -89.8 497.9 -117.6 458.8C-145.4 419.7 -158.8 405.6 -167 395L-167 360C-158.8 370.6 -145.4 392.3 -117.6 423.5C-89.8 454.7 -39.2 501.9 0 547C39.2 592.1 86.2 657.7 117.6 694C149 730.3 167.9 748.6 188.3 764.6C208.7 780.6 222.4 783.1 240 790C257.6 796.9 270.7 801.8 294 805.8C317.3 809.8 350.6 813 380 814C409.4 815 440.6 815.4 470.6 811.7C500.6 808 537.4 799.3 560 792C582.6 784.7 598.3 772 606 768Z" fill="#8b8989"/>
<path d="M-167 360C-158.8 370.6 -145.4 392.3 -117.6 423.5C-89.8 454.7 -39.2 501.9 0 547C39.2 592.1 86.2 657.7 117.6 694C149 730.3 167.9 748.6 188.3 764.6C208.7 780.6 222.4 783.1 240 790C257.6 796.9 270.7 801.8 294 805.8C317.3 809.8 350.6 813 380 814C409.4 815 440.6 815.4 470.6 811.7C500.6 808 537.4 799.3 560 792C582.6 784.7 598.3 772 606 768" fill="none" stroke="#f3efef" stroke-width="3" stroke-opacity="0.7"/>
<path d="M-60 380 L230 700" stroke="#ffffff" stroke-opacity="0.16" stroke-width="10"/>
<path d="M-10 420 L280 718" stroke="#ffffff" stroke-opacity="0.16" stroke-width="10"/>
<path d="M40 460 L330 736" stroke="#ffffff" stroke-opacity="0.16" stroke-width="10"/>
<path d="M90 500 L380 754" stroke="#ffffff" stroke-opacity="0.16" stroke-width="10"/>
<path d="M140 540 L430 772" stroke="#ffffff" stroke-opacity="0.16" stroke-width="10"/>
<path d="M190 580 L480 790" stroke="#ffffff" stroke-opacity="0.16" stroke-width="10"/>
<path d="M60 268C71.6 282.1 108.1 327 129.5 352.9C150.9 378.8 166.8 394.1 188.3 423.5C209.9 452.9 235.3 495.1 258.8 529.4C282.3 563.7 303.9 603.9 329.4 629.4C354.9 654.9 388.3 669.6 411.8 682.3C435.3 695 439.2 696.2 470.6 705.8C502 715.4 578.4 734.3 600 740L600 740C598.3 733.7 610 715.3 590 702C570 688.7 508.3 675.3 480 660C451.7 644.7 436.7 630 420 610C403.3 590 395 565 380 540C365 515 351.7 491.7 330 460C308.3 428.3 280 388.7 250 350C220 311.3 166.7 248.3 150 228Z" fill="#8f8b8c"/>
<path d="M110 262C123.3 282.5 160 345.3 190 385C220 424.7 262.5 464.2 290 500C317.5 535.8 331.7 574.2 355 600C378.3 625.8 407.5 640.8 430 655C452.5 669.2 462 673.8 490 685C518 696.2 580 715.8 598 722L600 740C598.3 733.7 610 715.3 590 702C570 688.7 508.3 675.3 480 660C451.7 644.7 436.7 630 420 610C403.3 590 395 565 380 540C365 515 351.7 491.7 330 460C308.3 428.3 280 388.7 250 350C220 311.3 166.7 248.3 150 228Z" fill="#5d595b"/>
<path d="M60 262L100 238L150 228L240 352L160 330Z" fill="#aaa8a8"/>
<path d="M95 240L150 215L165 240L150 230Z" fill="#615f5f"/>
<path d="M150 215L250 180L350 130L420 60L440 0L470 120L430 112L400 100L280 165L165 228Z" fill="#888484"/>
<path d="M150 225C163.3 218.3 201.7 199.2 230 185C258.3 170.8 291.7 154.2 320 140C348.3 125.8 381.7 105 400 100C418.3 95 410 97 430 110C450 123 491.7 156.3 520 178C548.3 199.7 570 214.7 600 240C630 265.3 676.7 300 700 330C723.3 360 736.7 391.7 740 420C743.3 448.3 735 476.7 720 500C705 523.3 680 545 650 560C620 575 575 588.3 540 590C505 591.7 466.7 578.3 440 570C413.3 561.7 398.3 558.3 380 540C361.7 521.7 351.7 491.7 330 460C308.3 428.3 263.3 368.3 250 350Z" fill="url(#trTg)"/>
<path d="M380 540C390 545.3 413.3 563.3 440 572C466.7 580.7 505 593.7 540 592C575 590.3 620 577 650 562C680 547 704.8 525.7 720 502C735.2 478.3 737.5 433.7 741 420" fill="none" stroke="#a9a6a6" stroke-width="3.5"/>
<path d="M440 -210C440.3 -175 445.3 -45 442 0C438.7 45 435.3 38.3 420 60C404.7 81.7 378.3 110 350 130C321.7 150 283.3 165.8 250 180C216.7 194.2 175 205.8 150 215C125 224.2 115 227.5 100 235C85 242.5 70 249.2 60 260C50 270.8 50 289.7 40 300C30 310.3 6.7 318.3 0 322L0 322C-30 322.3 -150 412.7 -180 324C-210 235.3 -180 -121 -180 -210Z" fill="url(#trCap)"/>
<path d="M-160 318C-133.3 317.7 -33 319.7 0 316C33 312.3 28.3 306 38 296C47.7 286 47.7 266.8 58 256C68.3 245.2 93 235.2 100 231" fill="none" stroke="#f4f1f2" stroke-width="6"/>
</g></g>
<clipPath id="cp_cML"><circle cx="144.2" cy="519.4" r="93.5"/></clipPath>
<g id="cML" clip-path="url(#cp_cML)"><g transform="translate(30 400) scale(0.24)">
<rect x="0" y="0" width="1000" height="1000" fill="#fdfdfd"/>
<path d="M90 520C108.3 511.7 165 490.8 200 470C235 449.2 275.8 415 300 395C324.2 375 337.5 357.5 345 350L345 350C337.5 363.3 339.2 388.3 300 430C260.8 471.7 141.7 571.7 110 600Z" fill="#343434"/>
<path d="M100 590C116.7 575.8 166.7 533.3 200 505C233.3 476.7 270 447.5 300 420C330 392.5 356.7 366.7 380 340C403.3 313.3 421.7 283.3 440 260C458.3 236.7 470 220 490 200C510 180 535 148.3 560 140C585 131.7 613.3 138.3 640 150C666.7 161.7 693.3 185 720 210C746.7 235 786.7 285 800 300L800 300C833.3 300 966.7 183.3 1000 300C1033.3 416.7 1166.7 883.3 1000 1000C833.3 1116.7 150 1060 0 1000C-150 940 83.3 700 100 640Z" fill="url(#mlBlue)"/>
<path d="M555 315C553.2 294.2 582.1 293.3 598.3 287.9C614.6 282.5 634.4 278 652.5 282.5C670.6 287 692.2 297.9 706.7 315C721.1 332.2 735.6 362 739.2 385.4C742.8 408.9 737.4 436.9 728.3 455.8C719.3 474.8 699.4 491.1 685 499.2C670.6 507.3 654.3 519 641.7 504.6C629 490.2 623.6 444.1 609.2 412.5C594.7 380.9 556.8 335.8 555 315Z" fill="#4fa8df"/>
<path d="M259.8 553.4C261.6 533.5 269.2 513.6 278.7 499.2C288.2 484.7 292.3 482.9 316.6 466.7C341 450.4 388.9 423.3 425 401.7C461.1 380 508 349.3 533.3 336.7C558.6 324 561.3 324 576.7 325.8C592 327.6 611.9 334.9 625.4 347.5C639 360.1 651.1 381.8 657.9 401.7C664.7 421.5 666.9 448.6 666 466.7C665.1 484.7 672.8 488.3 652.5 510C632.2 531.7 580.3 568.7 544.2 596.7C508 624.7 464.7 662.1 435.8 677.9C406.9 693.7 392.5 693.3 370.8 691.5C349.1 689.7 323 679.3 305.8 667.1C288.7 654.9 275.6 637.3 267.9 618.4C260.2 599.4 258 573.2 259.8 553.4Z" fill="#3a8fc4" transform="translate(6 8)" opacity="0.55"/>
<path d="M259.8 553.4C261.6 533.5 269.2 513.6 278.7 499.2C288.2 484.7 292.3 482.9 316.6 466.7C341 450.4 388.9 423.3 425 401.7C461.1 380 508 349.3 533.3 336.7C558.6 324 561.3 324 576.7 325.8C592 327.6 611.9 334.9 625.4 347.5C639 360.1 651.1 381.8 657.9 401.7C664.7 421.5 666.9 448.6 666 466.7C665.1 484.7 672.8 488.3 652.5 510C632.2 531.7 580.3 568.7 544.2 596.7C508 624.7 464.7 662.1 435.8 677.9C406.9 693.7 392.5 693.3 370.8 691.5C349.1 689.7 323 679.3 305.8 667.1C288.7 654.9 275.6 637.3 267.9 618.4C260.2 599.4 258 573.2 259.8 553.4Z" fill="#323a3a"/>
<path d="M276 553.4C276.9 538 281.9 521.8 289.6 510C297.2 498.3 299.5 497.8 322.1 482.9C344.6 468 389.8 441.9 425 420.6C460.2 399.4 508 368.7 533.3 355.6C558.6 342.5 562.2 340.7 576.7 342.1C591.1 343.4 609.2 352 620 363.8C630.8 375.5 638 395.4 641.7 412.5C645.3 429.7 645.3 452.2 641.7 466.7C638 481.1 639.9 482 620 499.2C600.1 516.3 555 546.1 522.5 569.6C490 593.1 450.3 625.6 425 640C399.7 654.5 388.9 656.3 370.8 656.3C352.8 656.3 331.1 649.1 316.6 640C302.2 631 290.9 616.6 284.1 602.1C277.4 587.7 275.1 568.7 276 553.4Z" fill="#0c0c0c"/>
<path d="M295 504.6L387.1 640" stroke="#c4c4c4" stroke-width="6.5" stroke-linecap="round"/>
<path d="M332.9 469.4L435.8 618.4" stroke="#c4c4c4" stroke-width="6.5" stroke-linecap="round"/>
<path d="M373.5 436.9L479.1 585.9" stroke="#c4c4c4" stroke-width="6.5" stroke-linecap="round"/>
<path d="M416.9 409.8L519.8 556.1" stroke="#c4c4c4" stroke-width="6.5" stroke-linecap="round"/>
<path d="M460.2 380L560.4 526.3" stroke="#c4c4c4" stroke-width="6.5" stroke-linecap="round"/>
<path d="M503.5 352.9L603.7 499.2" stroke="#c4c4c4" stroke-width="6.5" stroke-linecap="round"/>
<path d="M552.3 342.1L636.2 458.6" stroke="#c4c4c4" stroke-width="6.5" stroke-linecap="round"/>
<path d="M800 300C805 313.3 820.8 351.7 830 380C839.2 408.3 850.8 445 855 470C859.2 495 855 520 855 530L855 530C851.7 520 842.5 491.7 835 470C827.5 448.3 816.7 423.3 810 400C803.3 376.7 797.5 341.7 795 330Z" fill="#2f7f95"/>
<path d="M700 790C710 780 740 745 760 730C780 715 810 705 820 700L820 700C815 710 806.7 741.7 790 760C773.3 778.3 731.7 801.7 720 810Z" fill="#3a8fb5"/>
</g></g>
<clipPath id="cp_cMR"><circle cx="853.9" cy="516.7" r="90.3"/></clipPath>
<g id="cMR" clip-path="url(#cp_cMR)"><g transform="translate(740 400) scale(0.24)">
<rect x="0" y="0" width="1000" height="1000" fill="#fefefe"/>
<path d="M320 270L520 230L520 380L360 410Z" fill="#8a9090"/>
<path d="M355 340L510 320L515 375L365 405Z" fill="#b5baba"/>
<path d="M385 440C385.8 435 384.2 414.2 390 410C395.8 405.8 411.7 398.3 420 415C428.3 431.7 433.3 477.5 440 510C446.7 542.5 460.8 589.2 460 610C459.2 630.8 442.5 636.7 435 635C427.5 633.3 421.7 624.2 415 600C408.3 575.8 398.3 508.3 395 490" fill="none" stroke="#252b2b" stroke-width="22" stroke-linecap="round"/>
<path d="M385 440C385.8 435 384.2 414.2 390 410C395.8 405.8 411.7 398.3 420 415C428.3 431.7 433.3 477.5 440 510C446.7 542.5 460.8 589.2 460 610C459.2 630.8 442.5 636.7 435 635C427.5 633.3 421.7 624.2 415 600C408.3 575.8 398.3 508.3 395 490" fill="none" stroke="#c9d0d0" stroke-width="6" stroke-linecap="round"/>
<path d="M450 425C450.8 420 449.2 399.2 455 395C460.8 390.8 476.7 383.3 485 400C493.3 416.7 498.3 462.5 505 495C511.7 527.5 525.8 574.2 525 595C524.2 615.8 507.5 621.7 500 620C492.5 618.3 486.7 609.2 480 585C473.3 560.8 463.3 493.3 460 475" fill="none" stroke="#252b2b" stroke-width="22" stroke-linecap="round"/>
<path d="M450 425C450.8 420 449.2 399.2 455 395C460.8 390.8 476.7 383.3 485 400C493.3 416.7 498.3 462.5 505 495C511.7 527.5 525.8 574.2 525 595C524.2 615.8 507.5 621.7 500 620C492.5 618.3 486.7 609.2 480 585C473.3 560.8 463.3 493.3 460 475" fill="none" stroke="#c9d0d0" stroke-width="6" stroke-linecap="round"/>
<path d="M510 410C510.8 405 509.2 384.2 515 380C520.8 375.8 536.7 368.3 545 385C553.3 401.7 558.3 447.5 565 480C571.7 512.5 585.8 559.2 585 580C584.2 600.8 567.5 606.7 560 605C552.5 603.3 546.7 594.2 540 570C533.3 545.8 523.3 478.3 520 460" fill="none" stroke="#252b2b" stroke-width="22" stroke-linecap="round"/>
<path d="M510 410C510.8 405 509.2 384.2 515 380C520.8 375.8 536.7 368.3 545 385C553.3 401.7 558.3 447.5 565 480C571.7 512.5 585.8 559.2 585 580C584.2 600.8 567.5 606.7 560 605C552.5 603.3 546.7 594.2 540 570C533.3 545.8 523.3 478.3 520 460" fill="none" stroke="#c9d0d0" stroke-width="6" stroke-linecap="round"/>
<path d="M525 390C531.7 405 551.7 451.7 565 480C578.3 508.3 595 542.5 605 560C615 577.5 621.7 580.8 625 585" fill="none" stroke="#252b2b" stroke-width="22" stroke-linecap="round"/>
<path d="M525 390C531.7 405 551.7 451.7 565 480C578.3 508.3 595 542.5 605 560C615 577.5 621.7 580.8 625 585" fill="none" stroke="#c9d0d0" stroke-width="6" stroke-linecap="round"/>
<path d="M0 0C166.7 0 833.3 -16.7 1000 0C1166.7 16.7 1063.3 81.7 1000 100C936.7 118.3 683.3 108.3 620 110L620 110C610 123.3 580 166.7 560 190C540 213.3 523.3 234.2 500 250C476.7 265.8 448.3 278 420 285C391.7 292 360 294.5 330 292C300 289.5 268.3 278.7 240 270C211.7 261.3 200 246.7 160 240C120 233.3 26.7 231.7 0 230Z" fill="url(#mrCap)"/>
<path d="M0 420C15.8 420 75 435 95 420C115 405 108.3 355.3 120 330C131.7 304.7 145 279.3 165 268C185 256.7 214.2 259.7 240 262C265.8 264.3 306.7 278.7 320 282L320 282C324.2 301.7 335.8 360.3 345 400C354.2 439.7 367.2 483.3 375 520C382.8 556.7 391.2 586.7 392 620C392.8 653.3 387 680 380 720C373 760 355 836.7 350 860L350 860C348.3 883.3 398.3 976.7 340 1000C281.7 1023.3 56.7 1000 0 1000Z" fill="#66bef0"/>
<path d="M0 400C17.5 402 84.2 402 105 412C125.8 422 117.5 435.3 125 460C132.5 484.7 142.5 528.3 150 560C157.5 591.7 163.7 620.8 170 650C176.3 679.2 185 720.8 188 735L188 735C173.3 745.8 131.3 789.2 100 800C68.7 810.8 16.7 800 0 800Z" fill="#101010"/>
<path d="M500 255C510 244.2 542.5 211.2 560 190C577.5 168.8 581.7 143 605 128C628.3 113 634.2 104.7 700 100C765.8 95.3 950 100 1000 100L1000 100C1000 200 1036.7 598 1000 700C963.3 802 816.7 710 780 712L780 712C766.7 701.7 726.7 671.2 700 650C673.3 628.8 636.7 606.7 620 585C603.3 563.3 610 547.5 600 520C590 492.5 573.3 450.8 560 420C546.7 389.2 526.7 349.2 520 335Z" fill="#76c8f3"/>
</g></g>
<clipPath id="cp_cBL"><circle cx="149.3" cy="833.8" r="99"/></clipPath>
<g id="cBL" clip-path="url(#cp_cBL)"><g transform="translate(30 715) scale(0.24)">
<path d="M209.2 460.8L396.7 404.6L644.2 535.8L554.2 625.8L329.2 520.8L209.2 469.8Z" fill="url(#blFile)"/>
<path d="M207.7 463.8L224.2 439.8L291.7 423.3L396.7 395.6L404.2 445.8L351.7 498.3L284.2 492.3L209.2 469.8Z" fill="#59645f"/>
<path d="M351.7 427.1L299.2 505.8" stroke="#ffffff" stroke-opacity="0.25" stroke-width="3"/>
<path d="M378.7 441.3L326.2 520" stroke="#ffffff" stroke-opacity="0.25" stroke-width="3"/>
<path d="M405.7 455.6L353.2 534.3" stroke="#ffffff" stroke-opacity="0.25" stroke-width="3"/>
<path d="M432.7 469.8L380.2 548.5" stroke="#ffffff" stroke-opacity="0.25" stroke-width="3"/>
<path d="M459.7 484.1L407.2 562.8" stroke="#ffffff" stroke-opacity="0.25" stroke-width="3"/>
<path d="M486.7 498.3L434.2 577" stroke="#ffffff" stroke-opacity="0.25" stroke-width="3"/>
<path d="M513.7 512.5L461.2 591.3" stroke="#ffffff" stroke-opacity="0.25" stroke-width="3"/>
<path d="M540.7 526.8L488.2 605.5" stroke="#ffffff" stroke-opacity="0.25" stroke-width="3"/>
<path d="M567.7 541L515.2 619.8" stroke="#ffffff" stroke-opacity="0.25" stroke-width="3"/>
<path d="M554.2 618.3C561.7 605.8 584.2 593.3 599.2 580.8C614.2 568.3 630.5 551.4 644.2 543.3C658 535.2 668 530.8 681.7 532C695.5 533.3 708 540.2 726.7 550.8C745.5 561.4 781.7 583.3 794.2 595.8C806.7 608.3 804.2 613.3 801.7 625.8C799.2 638.3 793 657 779.2 670.8C765.5 684.5 744.2 697 719.2 708.3C694.2 719.5 648 735.8 629.2 738.3C610.5 740.8 611.1 730.8 606.7 723.3C602.3 715.8 608 701.4 603 693.3C598 685.2 584.8 680.8 576.7 674.5C568.6 668.3 558 665.2 554.2 655.8C550.5 646.4 546.7 630.8 554.2 618.3Z" fill="#1d1d1d"/>
<path d="M565.5 622C575.5 603.9 624.8 567.7 644.2 554.5C663.6 541.4 668 542.4 681.7 543.3C695.5 544.2 709.8 550.4 726.7 559.8C743.6 569.2 776.7 587.3 783 599.5C789.2 611.8 777.3 622.7 764.2 633.3C751.1 643.9 726.7 655.2 704.2 663.3C681.7 671.4 649.2 682 629.2 682C609.2 682 594.8 673.3 584.2 663.3C573.6 653.3 555.5 640.2 565.5 622Z" fill="#313131"/>
<path d="M287.9 179.6C298.6 188.9 333.6 212.7 351.7 235.8C369.8 258.9 387.9 295.8 396.7 318.3C405.4 340.8 404.2 357.7 404.2 370.8C404.2 383.9 397.9 392.7 396.7 397.1L396.7 397.1C391.7 399.2 377.9 405.7 366.7 409.8C355.4 413.9 341.7 418.3 329.2 421.8C316.7 425.3 304.2 428.7 291.7 430.8C279.2 432.9 266.7 432.1 254.2 434.6C241.7 437.1 224.4 440.8 216.7 445.8C208.9 450.8 209.2 461.4 207.7 464.6L207.7 464.6C212.9 467.3 226.4 474.2 239.2 481.1C251.9 487.9 270.4 499.2 284.2 505.8C297.9 512.4 315.4 518.3 321.7 520.8L321.7 520.8C316.7 522.7 309.2 530.8 291.7 532C274.2 533.3 244.2 531.4 216.7 528.3C189.2 525.2 141.7 515.8 126.7 513.3L126.7 513.3C129.2 495.8 132.9 442.1 141.7 408.3C150.4 374.6 164.2 340.8 179.2 310.8C194.2 280.8 213.6 250.2 231.7 228.3C249.8 206.4 278.6 187.7 287.9 179.6Z" fill="#9fdbf7"/>
<path d="M291.7 183.3C301.7 192.1 334.2 213.3 351.7 235.8C369.2 258.3 387.9 295.8 396.7 318.3C405.4 340.8 404.2 357.7 404.2 370.8C404.2 383.9 397.9 392.7 396.7 397.1L396.7 397.1C391.7 399.2 377.9 405.7 366.7 409.8C355.4 413.9 341.1 418.6 329.2 421.8C317.3 425.1 301.1 428.1 295.4 429.3L295.4 429.3C292.9 419.6 282.3 395.6 280.4 370.8C278.6 346.1 282.3 312.1 284.2 280.8C286.1 249.6 290.4 199.6 291.7 183.3Z" fill="#70c5f2"/>
<path d="M216.7 479.6C220.4 479.8 227.9 476.7 239.2 481.1C250.4 485.4 270.4 499.2 284.2 505.8C297.9 512.4 315.4 518.3 321.7 520.8L321.7 520.8C316.7 522.7 304.2 530.5 291.7 532C279.2 533.5 259.2 534.2 246.7 529.8C234.2 525.4 221.7 509.8 216.7 505.8Z" fill="#66bff1"/>
</g></g>
<clipPath id="cp_cBR"><circle cx="853.2" cy="831.2" r="97"/></clipPath>
<g id="cBR" clip-path="url(#cp_cBR)"><g transform="translate(740 715) scale(0.24)">
<rect x="0" y="0" width="1000" height="1000" fill="#fefefe"/>
<path d="M205 222C212.5 215.8 235.8 196.2 250 185C264.2 173.8 283.3 160 290 155L290 155C291.7 265.8 298.3 709.2 300 820L300 820C293.3 815.3 273.3 801.2 260 792C246.7 782.8 226.7 769.5 220 765L220 765C219.2 744.2 214.3 687.5 215 640C215.7 592.5 222.8 523.3 224 480C225.2 436.7 224 411.7 222 380C220 348.3 214.8 316.3 212 290C209.2 263.7 206.2 233.3 205 222Z" fill="#8ad4f7"/>
<path d="M288 152C303.3 146.3 348 125.8 380 118C412 110.2 445 103.3 480 105C515 106.7 556.3 117.2 590 128C623.7 138.8 666.7 163 682 170L682 170C685 195 693.3 270 700 320C706.7 370 715.3 420 722 470C728.7 520 735.3 576.7 740 620C744.7 663.3 748.3 711.7 750 730L750 730C738.3 740 705 773 680 790C655 807 638.3 820 600 832C561.7 844 486.7 859 450 862C413.3 865 403.3 856.7 380 850C356.7 843.3 321.7 826.7 310 822L310 822C307.7 785 299.3 670.3 296 600C292.7 529.7 291.3 474.7 290 400C288.7 325.3 288.3 193.3 288 152Z" fill="#252323"/>
</g></g>
<g id="callouts" fill="none" stroke="#1c1c1c" stroke-width="1.9">
<circle cx="147.8" cy="206.2" r="100.5" stroke-dasharray="7.4 4"/>
<circle cx="854.5" cy="207.3" r="100.6" stroke-dasharray="7.4 4"/>
<ellipse cx="144" cy="519.8" rx="99.8" ry="101.8" stroke-dasharray="4.5 2.9"/>
<ellipse cx="853.9" cy="516.7" rx="100" ry="102" stroke-dasharray="4.5 2.9"/>
<ellipse cx="149.3" cy="833.8" rx="98.1" ry="100.6" stroke-dasharray="4.5 2.9"/>
<ellipse cx="853.2" cy="831.2" rx="97.6" ry="99.2" stroke-dasharray="4.5 2.9"/>
<path stroke-dasharray="3.8 3.4" d="M248.5 209H447"/>
<path stroke-dasharray="3.9 2.1" d="M773 138.4H511.6V200"/>
<path stroke-dasharray="3.9 3.3" d="M225 445H413"/>
<path stroke-dasharray="3.9 2.3" d="M746 526.8H511.8V452"/>
<path stroke-dasharray="3.9 2.2" d="M702 672.6H811.2V733"/>
<path stroke-dasharray="3.1 2.1" d="M152 935.6H317.4V912"/>
</g>
<circle cx="852.1" cy="726.2" r="1.2" fill="#222"/>
<g id="dots">
<circle class="dot" cx="452.5" cy="206.5" r="5.5"/>
<circle class="dot" cx="510.8" cy="207" r="5.5"/>
<circle class="dot" cx="431.6" cy="445" r="5.5"/>
<circle class="dot" cx="511.4" cy="443.8" r="5.5"/>
<circle class="dot" cx="684.5" cy="672.6" r="5.5"/>
<circle class="dot" cx="317.4" cy="906.4" r="5.5"/>
</g>
<g id="labels">
<text class="lbl" x="13.2" y="347.9" textLength="329.1" lengthAdjust="spacingAndGlyphs">Roostevabast teraset terad</text>
<text class="lbl" x="781.6" y="347.8" textLength="152.3" lengthAdjust="spacingAndGlyphs">Turva-piiraja</text>
<text class="lbl" x="86.1" y="658.75" textLength="116.7" lengthAdjust="spacingAndGlyphs">Turvalukk</text>
<text class="lbl" x="819.3" y="658.75" textLength="72.2" lengthAdjust="spacingAndGlyphs">Vedru</text>
<text class="lbl" x="93.2" y="971.85" textLength="113.7" lengthAdjust="spacingAndGlyphs">Küüneviil</text>
<text class="lbl" x="702.7" y="971.85" textLength="286.5" lengthAdjust="spacingAndGlyphs">Ergonoomiline käepide</text>
</g>
</svg>
</body>
</html>
